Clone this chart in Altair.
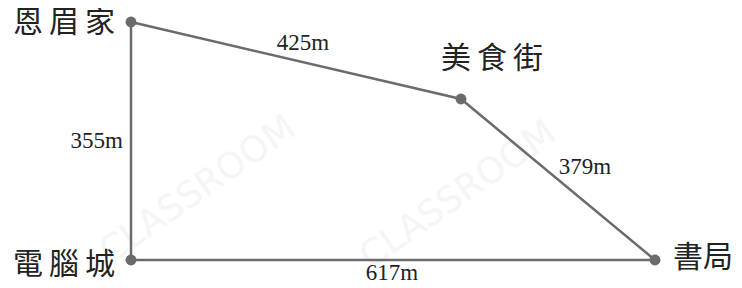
import altair as alt
import pandas as pd

# Diagram vertices (unitless drawing coordinates, y upward)
places = ["恩眉家", "美食街", "書局", "電腦城"]
place_x = [123, 453, 647, 123]
place_y = [258, 181, 20, 20]

# Edges (from, to) and their distance labels
edge_from = ["恩眉家", "美食街", "電腦城", "電腦城"]
edge_to = ["美食街", "書局", "書局", "恩眉家"]
edge_labels = ["425m", "379m", "617m", "355m"]

W, H = 726, 272
pos = {p: (x, y) for p, x, y in zip(places, place_x, place_y)}

SP = "\u2009"  # thin space to imitate the wide character spacing
pts = pd.DataFrame({"name": places, "x": place_x, "y": place_y,
                    "disp": [SP.join(p) if p != "書局" else p for p in places]})
order = ["恩眉家", "美食街", "書局", "電腦城", "恩眉家"]
poly = pd.DataFrame({"i": range(len(order)),
                     "x": [pos[p][0] for p in order],
                     "y": [pos[p][1] for p in order]})
edges = pd.DataFrame({
    "label": edge_labels,
    "x": [(pos[a][0] + pos[b][0]) / 2 for a, b in zip(edge_from, edge_to)],
    "y": [(pos[a][1] + pos[b][1]) / 2 for a, b in zip(edge_from, edge_to)],
})

xs = alt.Scale(domain=[0, W])
ys = alt.Scale(domain=[0, H])
X = lambda: alt.X("x:Q", scale=xs, axis=None)
Y = lambda: alt.Y("y:Q", scale=ys, axis=None)

GREY = "#6b6b6b"
CJK = "Noto Sans CJK TC"
NUM = "Liberation Serif"

# faint watermark
wm = pd.DataFrame({"t": ["CLASSROOM", "CLASSROOM"],
                   "x": [190, 450], "y": [90, 85]})
watermark = alt.Chart(wm).mark_text(font="DejaVu Sans", fontSize=36,
                                    angle=325, color="#f3f5f7").encode(
    x=X(), y=Y(), text="t:N")

line = alt.Chart(poly).mark_line(color=GREY, strokeWidth=2.5).encode(
    x=X(), y=Y(), order="i:Q")
dots = alt.Chart(pts).mark_circle(color=GREY, size=120, opacity=1).encode(x=X(), y=Y())

def name_layer(names, **kw):
    return alt.Chart(pts[pts["name"].isin(names)]).mark_text(
        font=CJK, fontSize=30, color="#222222", baseline="middle", **kw).encode(
        x=X(), y=Y(), text="disp:N")

names = alt.layer(
    name_layer(["恩眉家"], align="right", dx=-16, dy=1),
    name_layer(["電腦城"], align="right", dx=-16, dy=5),
    name_layer(["美食街"], align="center", dx=31, dy=-40),
    name_layer(["書局"], align="left", dx=18, dy=-2),
)

def edge_layer(lbl, **kw):
    return alt.Chart(edges[edges["label"] == lbl]).mark_text(
        font=NUM, fontSize=23, color="#222222", baseline="middle", **kw).encode(
        x=X(), y=Y(), text="label:N")

elabels = alt.layer(
    edge_layer("425m", align="center", dx=7, dy=-18),
    edge_layer("379m", align="center", dx=27, dy=-13),
    edge_layer("617m", align="center", dx=-1, dy=13),
    edge_layer("355m", align="right", dx=-8, dy=0),
)

chart = alt.layer(watermark, line, dots, names, elabels).properties(
    width=W, height=H, padding=0, autosize=alt.AutoSizeParams(type="none"),
    background="white"
).configure_view(stroke=None)

chart.save("out.html", embed_options={"renderer": "svg", "actions": False})
